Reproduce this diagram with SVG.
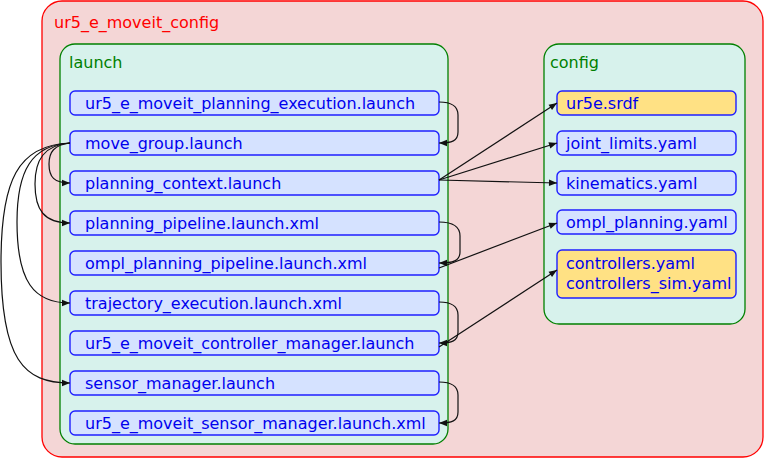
<svg xmlns="http://www.w3.org/2000/svg" width="764" height="458" viewBox="0 0 764 458">
<style>
text{font-family:"DejaVu Sans","Liberation Sans",sans-serif;font-size:16px}
.n rect{fill:#d5e2ff;stroke:#1f1fff;stroke-width:1.4}
.y rect{fill:#ffe184;stroke:#1f1fff;stroke-width:1.4}
.n text,.y text{fill:#0000ee}
.e path{fill:none;stroke:#111;stroke-width:1.2}
</style>
<defs>
<marker id="a" viewBox="0 0 10 10" refX="10" refY="5" markerWidth="9" markerHeight="8" markerUnits="userSpaceOnUse" orient="auto">
<path d="M0,1 L10,5 L0,9 z" fill="#111"/>
</marker>
</defs>
<g id="ur5_e_moveit_config">
<rect x="42" y="1" width="721" height="456" rx="20" fill="#f4d6d6" stroke="#ff0000" stroke-width="1.3"/>
<text x="54" y="28" fill="#ff0000">ur5_e_moveit_config</text>
</g>
<g id="launch">
<rect x="60" y="44" width="388" height="400" rx="15" fill="#d7f2ec" stroke="#008000" stroke-width="1.3"/>
<text x="69" y="68" fill="#008000">launch</text>
</g>
<g id="config">
<rect x="544" y="44" width="201" height="280" rx="15" fill="#d7f2ec" stroke="#008000" stroke-width="1.3"/>
<text x="550" y="68" fill="#008000">config</text>
</g>
<g id="n1" class="n"><rect x="70" y="91" width="369" height="24" rx="5"/><text x="85" y="109">ur5_e_moveit_planning_execution.launch</text></g>
<g id="n2" class="n"><rect x="70" y="131" width="369" height="24" rx="5"/><text x="85" y="149">move_group.launch</text></g>
<g id="n3" class="n"><rect x="70" y="171" width="369" height="24" rx="5"/><text x="85" y="189">planning_context.launch</text></g>
<g id="n4" class="n"><rect x="70" y="211" width="369" height="24" rx="5"/><text x="85" y="229">planning_pipeline.launch.xml</text></g>
<g id="n5" class="n"><rect x="70" y="251" width="369" height="24" rx="5"/><text x="85" y="269">ompl_planning_pipeline.launch.xml</text></g>
<g id="n6" class="n"><rect x="70" y="291" width="369" height="24" rx="5"/><text x="85" y="309">trajectory_execution.launch.xml</text></g>
<g id="n7" class="n"><rect x="70" y="331" width="369" height="24" rx="5"/><text x="85" y="349">ur5_e_moveit_controller_manager.launch</text></g>
<g id="n8" class="n"><rect x="70" y="371" width="369" height="24" rx="5"/><text x="85" y="389">sensor_manager.launch</text></g>
<g id="n9" class="n"><rect x="70" y="411" width="369" height="24" rx="5"/><text x="85" y="429">ur5_e_moveit_sensor_manager.launch.xml</text></g>
<g id="c1" class="y"><rect x="557" y="91" width="179" height="24" rx="5"/><text x="566" y="109">ur5e.srdf</text></g>
<g id="c2" class="n"><rect x="557" y="131" width="179" height="24" rx="5"/><text x="566" y="149">joint_limits.yaml</text></g>
<g id="c3" class="n"><rect x="557" y="171" width="179" height="24" rx="5"/><text x="566" y="189">kinematics.yaml</text></g>
<g id="c4" class="n"><rect x="557" y="210" width="179" height="24" rx="5"/><text x="566" y="228">ompl_planning.yaml</text></g>
<g id="c5" class="y"><rect x="557" y="250" width="179" height="48" rx="5"/><text x="566" y="269">controllers.yaml</text><text x="566" y="289">controllers_sim.yaml</text></g>
<g id="edges" class="e">
<path d="M439,102 C452,102 458,106 458,115 L458,132 C458,141 452,143 439,143" marker-end="url(#a)"/>
<path d="M439,222 C453,222 460,227 460,236 L460,252 C460,261 453,263 439,263" marker-end="url(#a)"/>
<path d="M439,302 C452,302 458,306 458,315 L458,332 C458,341 452,343 439,343" marker-end="url(#a)"/>
<path d="M439,382 C452,382 458,386 458,395 L458,412 C458,421 452,423 439,423" marker-end="url(#a)"/>
<path d="M70,143 C54,145 49,152 49,164 C49,177 54,183 70,183" marker-end="url(#a)"/>
<path d="M70,143 C44,145 35,160 35,184 C35,210 44,223 70,223" marker-end="url(#a)"/>
<path d="M70,143 C32,145 17,170 17,222 C17,282 34,303 70,303" marker-end="url(#a)"/>
<path d="M70,143 C18,145 1,180 1,262 C1,360 24,383 70,383" marker-end="url(#a)"/>
<path d="M439,180 L557,103" marker-end="url(#a)"/>
<path d="M439,180 L557,143" marker-end="url(#a)"/>
<path d="M439,180 L557,183" marker-end="url(#a)"/>
<path d="M439,268 L557,223" marker-end="url(#a)"/>
<path d="M439,347 L557,270" marker-end="url(#a)"/>
</g>
</svg>
